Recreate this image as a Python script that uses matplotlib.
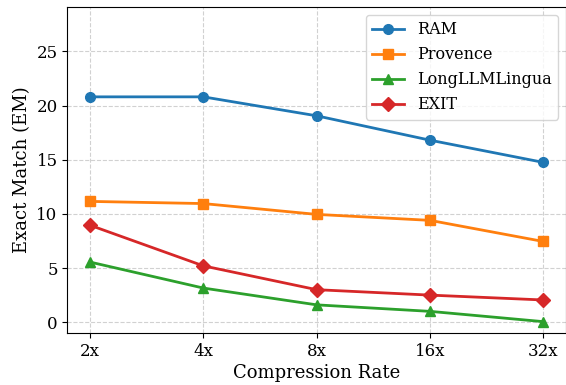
import matplotlib
matplotlib.use("Agg")
import matplotlib.pyplot as plt

rates = ["2x", "4x", "8x", "16x", "32x"]
ram = [20.8, 20.8, 19.05, 16.8, 14.75]
provence = [11.15, 10.95, 9.95, 9.4, 7.45]
longllmlingua = [5.55, 3.15, 1.6, 1.0, 0.05]
exit_ = [8.95, 5.2, 3.0, 2.5, 2.05]

plt.rcParams["font.family"] = "DejaVu Serif"

fig = plt.figure(figsize=(5.66, 3.85), dpi=100)
ax = fig.add_axes([0.119, 0.135, 0.881, 0.847])

x = range(len(rates))
ax.plot(x, ram, marker="o", color="#1f77b4", lw=2, ms=7, label="RAM")
ax.plot(x, provence, marker="s", color="#ff7f0e", lw=2, ms=7, label="Provence")
ax.plot(x, longllmlingua, marker="^", color="#2ca02c", lw=2, ms=7, label="LongLLMLingua")
ax.plot(x, exit_, marker="D", color="#d62728", lw=2, ms=7, label="EXIT")

ax.set_xticks(list(x))
ax.set_xticklabels(rates)
ax.set_xlim(-0.2, 4.2)
ax.set_ylim(-1.0, 29.1)
ax.set_yticks([0, 5, 10, 15, 20, 25])
ax.tick_params(labelsize=12)
ax.set_xlabel("Compression Rate", fontsize=13, labelpad=3)
ax.set_ylabel("Exact Match (EM)", fontsize=13)
ax.grid(True, linestyle="--", color="#cccccc", alpha=0.9)
ax.legend(loc="upper right", fontsize=11.5)

fig.savefig("out.png", dpi=100)
